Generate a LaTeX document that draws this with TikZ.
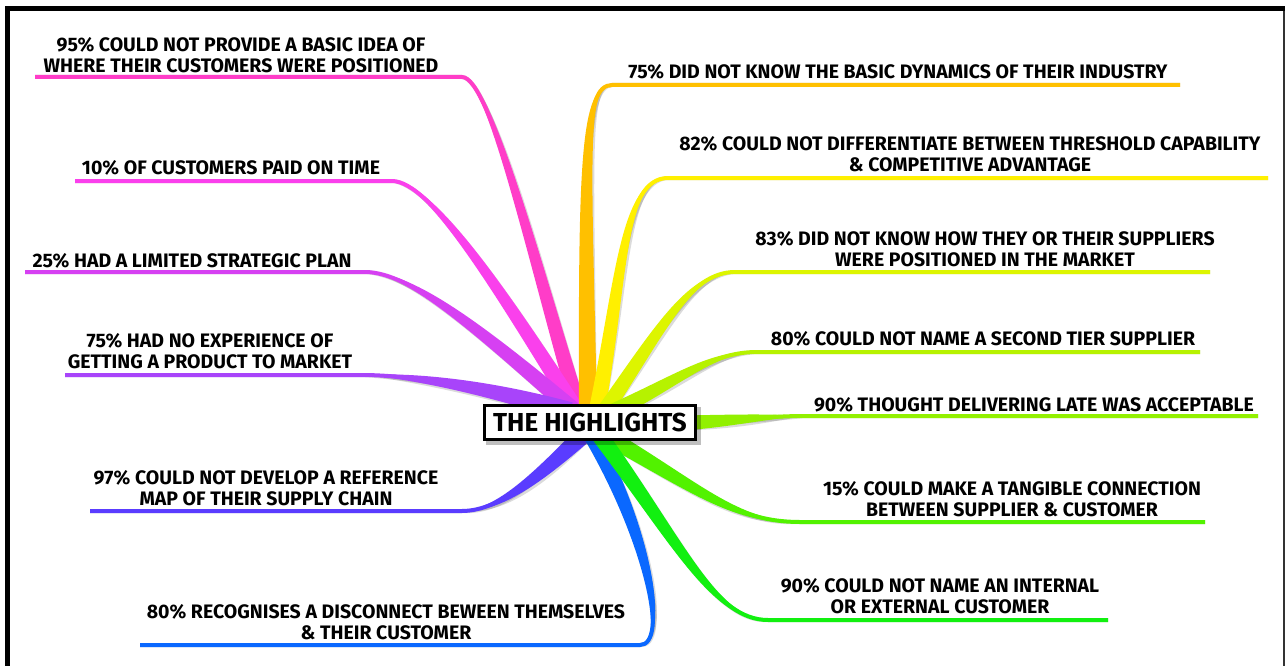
\documentclass[tikz,border=0pt]{standalone}
\usepackage{fontspec}
\setmainfont{Fira Sans}
\usetikzlibrary{calc}
\definecolor{cpA}{HTML}{FF3DC8}
\definecolor{cpB}{HTML}{FA40EC}
\definecolor{cpC}{HTML}{D640F2}
\definecolor{cpD}{HTML}{A844FA}
\definecolor{cpE}{HTML}{5A3CFF}
\definecolor{cpF}{HTML}{0A68FF}
\definecolor{cpG}{HTML}{FFC000}
\definecolor{cpH}{HTML}{FFF000}
\definecolor{cpI}{HTML}{DDF500}
\definecolor{cpJ}{HTML}{B6F200}
\definecolor{cpK}{HTML}{92F000}
\definecolor{cpL}{HTML}{52F200}
\definecolor{cpM}{HTML}{12F010}
\tikzset{
  lbl/.style={font=\bfseries\fontsize{19.5}{21.5}\selectfont, align=center, inner sep=0pt, text=black},
  hubbox/.style={draw=black, line width=3.2pt, fill=white, minimum width=211pt, minimum height=34pt, inner sep=0pt, font=\bfseries\fontsize{26}{28}\selectfont},
  shadowst/.style={black, opacity=0.14},
  plainst/.style={},
}
% #1 style, #2 start, #3 c1, #4 c2, #5 curve end, #6 underline end, #7,#8 half-width vector
\newcommand{\mmbranch}[8]{%
  \fill[#1] ($(#2)+(#7,#8)$) .. controls ($#3+0.75*(#7,#8)$) and ($#4+0.3*(#7,#8)$) .. (#5)
     .. controls ($#4-0.3*(#7,#8)$) and ($#3-0.75*(#7,#8)$) .. ($(#2)-(#7,#8)$) -- cycle;
  \draw[#1, line width=4pt] (#2) .. controls #3 and #4 .. (#5) -- (#6);
}
\newcommand{\allbranches}[1]{%
  \mmbranch{cpA,#1}{sA}{(535,265)}{(490,77)}{pA}{eA}{7.6}{-2.4}
  \mmbranch{cpB,#1}{sB}{(500,290)}{(430,181)}{pB}{eB}{7}{-4.4}
  \mmbranch{cpC,#1}{sC}{(480,330)}{(410,272)}{pC}{eC}{5.5}{-6.5}
  \mmbranch{cpD,#1}{sD}{(480,385)}{(405,375)}{pD}{eD}{2.6}{-9.5}
  \mmbranch{cpE,#1}{sE}{(540,475)}{(500,511)}{pE}{eE}{5.5}{6.8}
  \mmbranch{cpF,#1}{sF}{(650,540)}{(668,645)}{pF}{eF}{7}{-4}
  \mmbranch{cpG,#1}{sG}{(585,160)}{(583,85)}{pG}{eG}{9}{0}
  \mmbranch{cpH,#1}{sH}{(622,280)}{(622,178)}{pH}{eH}{8}{1.3}
  \mmbranch{cpI,#1}{sI}{(660,330)}{(690,272)}{pI}{eI}{6.5}{4.7}
  \mmbranch{cpJ,#1}{sJ}{(680,380)}{(710,352)}{pJ}{eJ}{3.2}{7.5}
  \mmbranch{cpK,#1}{sK}{(740,420)}{(770,416)}{pK}{eK}{0}{7.5}
  \mmbranch{cpL,#1}{sL}{(700,490)}{(735,522)}{pL}{eL}{-4}{7.5}
  \mmbranch{cpM,#1}{sM}{(680,545)}{(715,620)}{pM}{eM}{-6.5}{5}
}
\begin{document}
\begin{tikzpicture}[x=1pt,y=-1pt]
\useasboundingbox (0,0) rectangle (1285,666);
\fill[white] (0,0) rectangle (1285,666);
% frame
\draw[line width=5pt] (7.5,666) -- (7.5,8.5) -- (1285,8.5);
\draw[line width=1.5pt, black!80] (1283.8,11) -- (1283.8,666);
% branch coordinates
\coordinate (sA) at (579,410); \coordinate (pA) at (462,77);  \coordinate (eA) at (35,77);
\coordinate (sB) at (576,410); \coordinate (pB) at (392,181); \coordinate (eB) at (75,181);
\coordinate (sC) at (573,410); \coordinate (pC) at (365,272); \coordinate (eC) at (25,272);
\coordinate (sD) at (570,412); \coordinate (pD) at (362,375); \coordinate (eD) at (65,375);
\coordinate (sE) at (582,436); \coordinate (pE) at (462,511); \coordinate (eE) at (90,511);
\coordinate (sF) at (592,436); \coordinate (pF) at (640,645); \coordinate (eF) at (140,645);
\coordinate (sG) at (588,410); \coordinate (pG) at (612,85);  \coordinate (eG) at (1180,85);
\coordinate (sH) at (597,410); \coordinate (pH) at (668,178); \coordinate (eH) at (1268,178);
\coordinate (sI) at (604,412); \coordinate (pI) at (735,272); \coordinate (eI) at (1210,272);
\coordinate (sJ) at (608,414); \coordinate (pJ) at (757,352); \coordinate (eJ) at (1200,352);
\coordinate (sK) at (685,423); \coordinate (pK) at (805,416); \coordinate (eK) at (1258,416);
\coordinate (sL) at (606,436); \coordinate (pL) at (800,522); \coordinate (eL) at (1205,522);
\coordinate (sM) at (600,436); \coordinate (pM) at (768,620); \coordinate (eM) at (1108,620);
% shadows
\begin{scope}[shift={(2.5,3)}]
  \allbranches{shadowst}
\end{scope}
% branches
\allbranches{plainst}
% hub
\fill[black, opacity=0.25] (486,407) rectangle (701,445);
\node[hubbox] (hub) at (590,422.5) {THE HIGHLIGHTS};
% labels
\node[lbl] (tA) at (241,55) {95\% COULD NOT PROVIDE A BASIC IDEA OF\\WHERE THEIR CUSTOMERS WERE POSITIONED};
\node[lbl] (tB) at (231,168) {10\% OF CUSTOMERS PAID ON TIME};
\node[lbl] (tC) at (192,261) {25\% HAD A LIMITED STRATEGIC PLAN};
\node[lbl] (tD) at (210,351) {75\% HAD NO EXPERIENCE OF\\GETTING A PRODUCT TO MARKET};
\node[lbl] (tE) at (266,488) {97\% COULD NOT DEVELOP A REFERENCE\\MAP OF THEIR SUPPLY CHAIN};
\node[lbl] (tF) at (386,622) {80\% RECOGNISES A DISCONNECT BEWEEN THEMSELVES\\\& THEIR CUSTOMER};
\node[lbl] (tG) at (898,72) {75\% DID NOT KNOW THE BASIC DYNAMICS OF THEIR INDUSTRY};
\node[lbl] (tH) at (970,154) {82\% COULD NOT DIFFERENTIATE BETWEEN THRESHOLD CAPABILITY\\\& COMPETITIVE ADVANTAGE};
\node[lbl] (tI) at (985,249) {83\% DID NOT KNOW HOW THEY OR THEIR SUPPLIERS\\WERE POSITIONED IN THE MARKET};
\node[lbl] (tJ) at (983,339) {80\% COULD NOT NAME A SECOND TIER SUPPLIER};
\node[lbl] (tK) at (1034,405) {90\% THOUGHT DELIVERING LATE WAS ACCEPTABLE};
\node[lbl] (tL) at (1012,499) {15\% COULD MAKE A TANGIBLE CONNECTION\\BETWEEN SUPPLIER \& CUSTOMER};
\node[lbl] (tM) at (940,596) {90\% COULD NOT NAME AN INTERNAL\\OR EXTERNAL CUSTOMER};
\end{tikzpicture}
\end{document}
